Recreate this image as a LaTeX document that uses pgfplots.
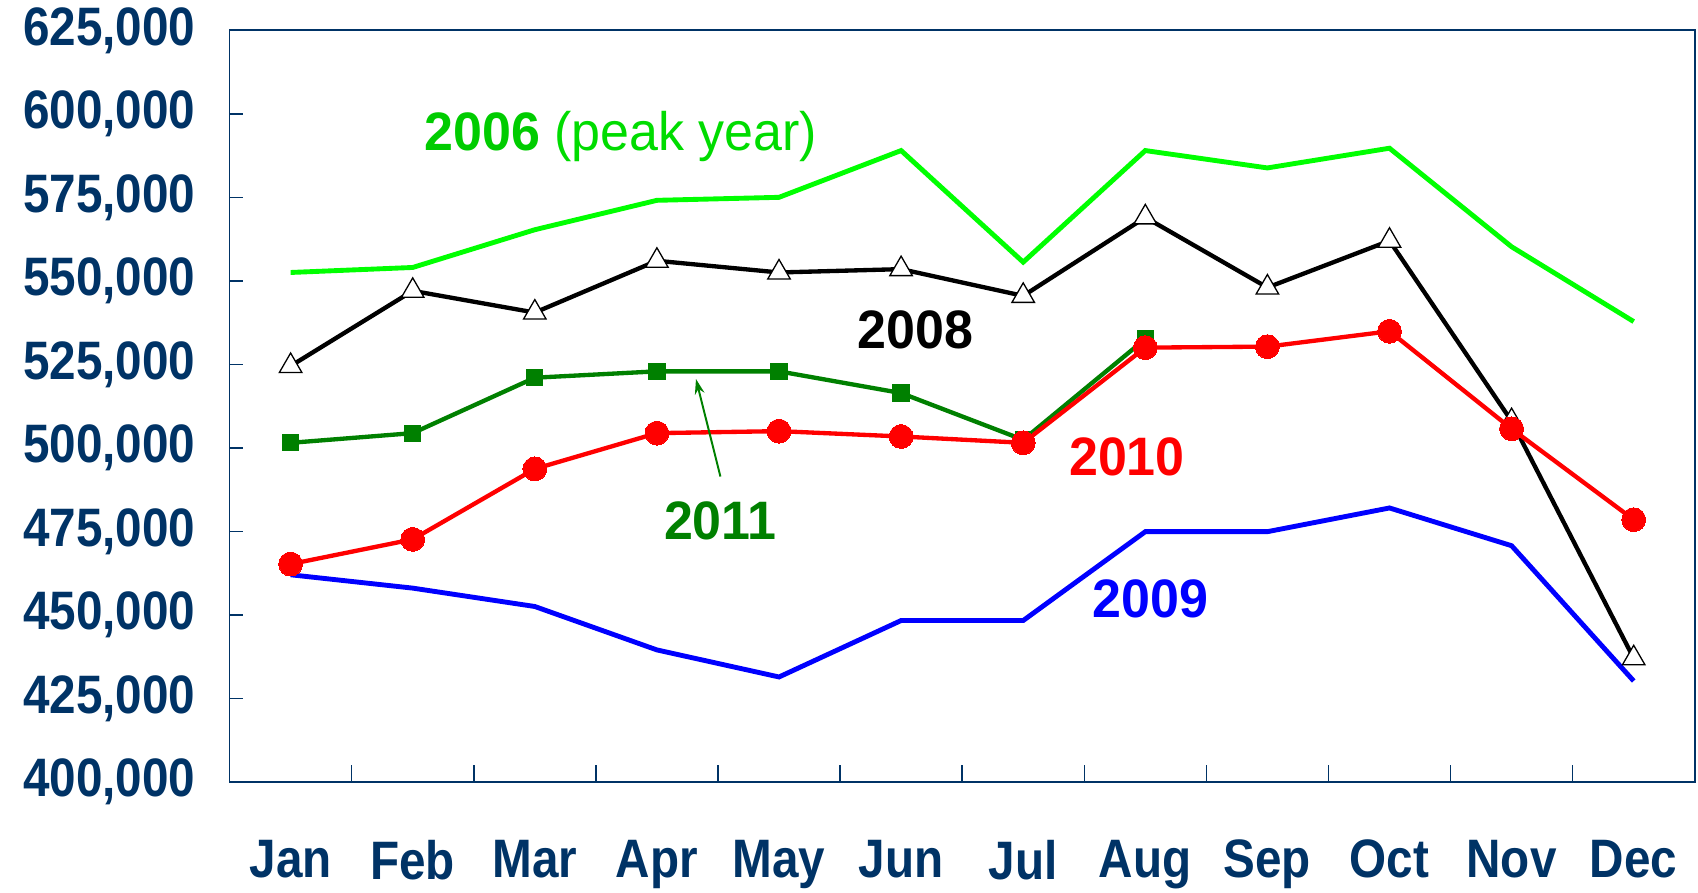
\documentclass[border=0pt]{standalone}
\usepackage{pgfplots}
\pgfplotsset{compat=1.18}
\usepackage{fontspec}
\setmainfont{Liberation Sans}
\newfontfamily\labfont[FakeStretch=0.88]{Liberation Sans}
\newfontfamily\annfont[FakeStretch=0.96]{Liberation Sans}
\usetikzlibrary{arrows.meta}
\definecolor{navy}{RGB}{0,51,102}
\definecolor{lgreen}{RGB}{0,255,0}
\definecolor{tgreen}{RGB}{0,204,0}
\definecolor{tgreen2}{RGB}{0,220,0}
\definecolor{dgreen}{RGB}{0,128,0}
\newcommand{\labsize}{\labfont\fontsize{50}{54}\selectfont\bfseries}
\newcommand{\annsize}{\annfont\fontsize{50}{54}\selectfont}
\begin{document}
\begin{tikzpicture}
\path[use as bounding box] (-212pt,-102pt) rectangle (1356pt,722pt);
\begin{axis}[
  at={(0,0)}, anchor=south west,
  scale only axis, width=1353pt, height=694pt,
  xmin=-0.5, xmax=11.5, ymin=400000, ymax=625000,
  axis line style={navy, line width=1.6pt},
  xtick={0,...,11},
  xticklabels={Jan,Feb,Mar,Apr,May,Jun,Jul,Aug,Sep,Oct,Nov,Dec},
  major x tick style={draw=none},
  minor xtick={0.5,1.5,...,10.5},
  minor tick length=16pt,
  minor x tick style={navy, line width=1.4pt},
  ytick={400000,425000,450000,475000,500000,525000,550000,575000,600000,625000},
  yticklabels={{400,000},{425,000},{450,000},{475,000},{500,000},{525,000},{550,000},{575,000},{600,000},{625,000}},
  major tick length=12pt,
  y tick style={navy, line width=1.4pt},
  tick align=inside,
  xtick pos=bottom, ytick pos=left,
  scaled y ticks=false,
  yticklabel style={font=\labsize, text=navy, xshift=-28pt},
  xticklabel style={font=\labsize, text=navy, yshift=-50pt},
  clip=false,
]
% 2006
\addplot[lgreen, line width=4.5pt, no markers] coordinates {
(0,552500) (1,554000) (2,565300) (3,574100) (4,575000) (5,589000)
(6,555600) (7,589000) (8,583800) (9,589700) (10,560200) (11,537800)};
% 2009
\addplot[blue, line width=4.5pt, no markers] coordinates {
(0,462000) (1,458000) (2,452500) (3,439500) (4,431400) (5,448300)
(6,448300) (7,474900) (8,474900) (9,482000) (10,470700) (11,430200)};
% 2008
\addplot[black, line width=4pt, mark=triangle*, mark size=12pt,
  mark options={fill=white, draw=black, line width=1.2pt}] coordinates {
(0,524500) (1,547000) (2,540500) (3,556000) (4,552500) (5,553500)
(6,545500) (7,569000) (8,548000) (9,562000) (10,508000) (11,437000)};
% 2011
\addplot[dgreen, line width=4pt, mark=square*, mark size=7.5pt,
  mark options={fill=dgreen, draw=dgreen, line width=0pt}] coordinates {
(0,501500) (1,504400) (2,521000) (3,522900) (4,522900) (5,516400)
(6,502400) (7,532600)};
% 2010
\addplot[red, line width=4pt, mark=*, mark size=11pt,
  mark options={fill=red, draw=red, line width=0pt}] coordinates {
(0,465200) (1,472600) (2,493700) (3,504400) (4,505000) (5,503400)
(6,501500) (7,530000) (8,530300) (9,534900) (10,505700) (11,478500)};
% annotations
\node[font=\annsize, text=tgreen2] at (axis cs:2.705,593200) {\textcolor{tgreen}{\bfseries 2006} (peak year)};
\node[font=\annsize\bfseries, text=black] at (axis cs:5.12,535200) {2008};
\node[font=\annsize\bfseries, text=dgreen] at (axis cs:3.52,478100) {2011};
\node[font=\annsize\bfseries, text=red] at (axis cs:6.85,497300) {2010};
\node[font=\annsize\bfseries, text=blue] at (axis cs:7.04,454800) {2009};
\draw[dgreen, line width=1.8pt, -{Stealth[length=14pt,width=9pt]}] (axis cs:3.52,491400) -- (axis cs:3.32,520600);
\end{axis}
\end{tikzpicture}
\end{document}
